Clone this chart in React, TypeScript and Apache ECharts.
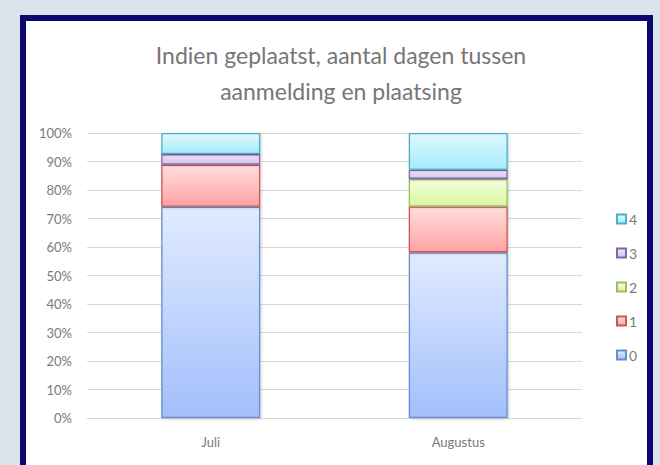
import React, { useEffect, useRef } from "react";
import * as echarts from "echarts";

const categories = ["Juli", "Augustus"];
const seriesNames = ["0", "1", "2", "3", "4"];
const values0 = [74.1, 58.1];
const values1 = [14.8, 16.1];
const values2 = [0, 9.7];
const values3 = [3.7, 3.2];
const values4 = [7.4, 12.9];
const yTicks = [0, 10, 20, 30, 40, 50, 60, 70, 80, 90, 100];
const titleText = "Indien geplaatst, aantal dagen tussen\naanmelding en plaatsing";

const palette = [
  { top: "#e1ebff", bottom: "#a2bffb", border: "#6590cc" },
  { top: "#ffdedd", bottom: "#ffa2a1", border: "#c65855" },
  { top: "#f3fee0", bottom: "#d8f79f", border: "#9dbd5e" },
  { top: "#ece6f8", bottom: "#d3c4ee", border: "#8467a8" },
  { top: "#e1f9ff", bottom: "#a3ebfd", border: "#4eadc7" },
];

const FONT = "Lato, 'Open Sans', sans-serif";

export default function App() {
  const ref = useRef<HTMLDivElement>(null);
  useEffect(() => {
    if (!ref.current) return;
    const chart = echarts.init(ref.current, undefined, { renderer: "svg" });
    const allValues = [values0, values1, values2, values3, values4];
    const series = allValues.map((vals, i) => ({
      name: seriesNames[i],
      type: "bar",
      stack: "total",
      barWidth: "40%",
      data: vals.map((v) => (v === 0 ? null : v)),
      itemStyle: {
        color: new echarts.graphic.LinearGradient(0, 0, 0, 1, [
          { offset: 0, color: palette[i].top },
          { offset: 1, color: palette[i].bottom },
        ]),
        borderColor: palette[i].border,
        borderWidth: 1.3,
        shadowBlur: 3,
        shadowColor: "rgba(0,0,0,0.2)",
        shadowOffsetX: 1,
        shadowOffsetY: 1,
      },
      emphasis: { disabled: true },
    }));
    chart.setOption({
      animation: false,
      title: {
        text: titleText,
        left: 336,
        textAlign: "center",
        top: 32,
        textStyle: {
          fontFamily: FONT,
          fontSize: 23,
          fontWeight: "normal",
          color: "#767676",
          lineHeight: 36,
        },
      },
      grid: { left: 87, right: 78, top: 133, bottom: 47, containLabel: false },
      legend: {
        orient: "vertical",
        left: 611,
        top: 207,
        icon: "rect",
        itemWidth: 9,
        itemHeight: 9,
        itemGap: 20,
        data: ["4", "3", "2", "1", "0"],
        textStyle: { fontFamily: FONT, fontSize: 14, color: "#7a7a7a", padding: [0, 0, 0, -2] },
        selectedMode: false,
      },
      xAxis: {
        type: "category",
        data: categories,
        axisLine: { lineStyle: { color: "#d9d9d9", width: 1 } },
        axisTick: { show: false },
        axisLabel: { fontFamily: FONT, fontSize: 13, color: "#7a7a7a", margin: 17 },
      },
      yAxis: {
        type: "value",
        min: yTicks[0],
        max: yTicks[yTicks.length - 1],
        interval: 10,
        axisLine: { show: false },
        axisTick: { show: false },
        splitLine: { lineStyle: { color: "#d9d9d9", width: 1 } },
        axisLabel: {
          fontFamily: FONT,
          fontSize: 13,
          color: "#7a7a7a",
          margin: 15,
          formatter: "{value}%",
        },
      },
      series,
    });
    return () => chart.dispose();
  }, []);

  return (
    <div
      style={{
        position: "fixed",
        left: 0,
        top: 0,
        width: 660,
        height: 465,
        background: "#dce3ea",
        overflow: "hidden",
      }}
    >
      <div
        style={{
          position: "absolute",
          left: 20,
          top: 15,
          width: 621,
          height: 470,
          border: "6px solid #0b0870",
          background: "#ffffff",
        }}
      />
      <div ref={ref} style={{ position: "absolute", left: 0, top: 0, width: 660, height: 465 }} />
    </div>
  );
}
